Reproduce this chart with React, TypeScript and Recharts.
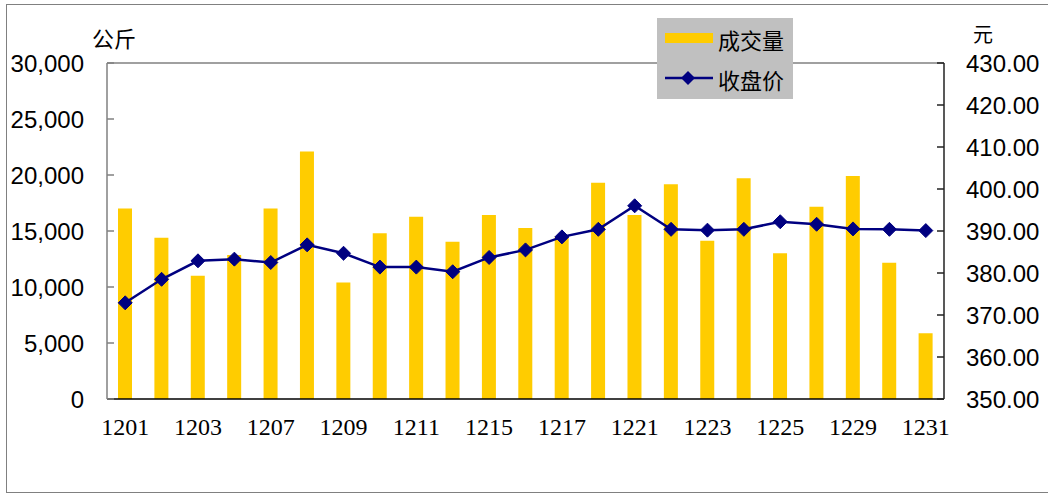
import React from 'react';
import { ComposedChart, Bar, Line, XAxis, YAxis, Legend, ReferenceLine } from 'recharts';

const dates = ['1201','1202','1203','1206','1207','1208','1209','1210','1211','1214','1215','1216','1217','1218','1221','1222','1223','1224','1225','1228','1229','1230','1231'];
const volume = [17000,14400,11000,12850,17000,22100,10400,14800,16280,14050,16430,15270,14500,19310,16430,19170,14130,19700,13010,17170,19910,12170,5870];
const closePrice = [372.9,378.5,382.9,383.3,382.5,386.7,384.7,381.4,381.4,380.3,383.7,385.5,388.6,390.4,396.0,390.4,390.2,390.4,392.2,391.6,390.5,390.4,390.1];
const leftTicks = [0,5000,10000,15000,20000,25000,30000];
const rightTicks = [350,360,370,380,390,400,410,420,430];

const data = dates.map((d, i) => ({ date: d, volume: volume[i], price: closePrice[i] }));

const NAVY = '#000080';
const GOLD = '#FFCC00';
const CJK = '"Noto Sans CJK SC", sans-serif';

const Diamond = (props: any) => {
  const { cx, cy } = props;
  if (cx == null || cy == null) return null;
  const r = 7;
  return <polygon points={`${cx},${cy - r} ${cx + r},${cy} ${cx},${cy + r} ${cx - r},${cy}`} fill={NAVY} stroke={NAVY} strokeWidth={1} />;
};

const LegendBox = () => (
  <div style={{ background: '#C0C0C0', width: 136, height: 81, position: 'relative', fontFamily: CJK, fontSize: 22, color: '#000' }}>
    <div style={{ position: 'absolute', left: 8, top: 15, width: 48, height: 10, background: GOLD }} />
    <div style={{ position: 'absolute', left: 61, top: 6, lineHeight: '30px' }}>成交量</div>
    <svg style={{ position: 'absolute', left: 8, top: 52 }} width={48} height={16}>
      <line x1={0} y1={8} x2={48} y2={8} stroke={NAVY} strokeWidth={2.5} />
      <polygon points="23,1 30,8 23,15 16,8" fill={NAVY} />
    </svg>
    <div style={{ position: 'absolute', left: 61, top: 46, lineHeight: '30px' }}>收盘价</div>
  </div>
);

export default function App() {
  return (
    <div style={{ position: 'absolute', left: 0, top: 0, width: 1048, height: 495, background: '#fff' }}>
      <div style={{ position: 'absolute', left: 6, top: 4, width: 1060, height: 489, border: '1px solid #808080', boxSizing: 'border-box' }} />
      <div style={{ position: 'absolute', left: 0, top: 0 }}>
        <ComposedChart width={1048} height={495} data={data} margin={{ top: 63, right: 4, bottom: 56, left: 7 }}>
          <XAxis
            dataKey="date"
            interval={1}
            tickLine={false}
            tickSize={8}
            tickMargin={11}
            stroke="#000"
            strokeWidth={1.5}
            height={40}
            tick={{ fill: '#000', fontSize: 24, fontFamily: '"Liberation Serif", serif' }}
          />
          <YAxis
            yAxisId="left"
            orientation="left"
            width={100}
            domain={[0, 30000]}
            ticks={leftTicks}
            interval={0}
            tickSize={-7}
            tickMargin={30}
            stroke="#808080"
            strokeWidth={1.5}
            tickFormatter={(v: number) => v.toLocaleString('en-US')}
            tick={{ fill: '#000', fontSize: 24, fontFamily: '"Liberation Sans", Arial, sans-serif' }}
          />
          <YAxis
            yAxisId="right"
            orientation="right"
            width={100}
            domain={[350, 430]}
            ticks={rightTicks}
            interval={0}
            tickSize={-7}
            tickMargin={29}
            stroke="#222"
            strokeWidth={1.5}
            tickFormatter={(v: number) => v.toFixed(2)}
            tick={{ fill: '#000', fontSize: 24, fontFamily: '"Liberation Sans", Arial, sans-serif', textAnchor: 'start' }}
          />
          <ReferenceLine yAxisId="left" y={30000} stroke="#808080" strokeWidth={1.5} />
          <Bar yAxisId="left" dataKey="volume" name="成交量" fill={GOLD} barSize={14} isAnimationActive={false} />
          <Line yAxisId="right" dataKey="price" name="收盘价" stroke={NAVY} strokeWidth={2.5} dot={<Diamond />} activeDot={false} isAnimationActive={false} />
          <Legend
            layout="vertical"
            align="center"
            verticalAlign="middle"
            content={() => <LegendBox />}
            wrapperStyle={{ position: 'absolute', left: 657, top: 18, width: 136, height: 81 }}
          />
        </ComposedChart>
      </div>
      <div style={{ position: 'absolute', left: 92, top: 26, fontFamily: CJK, fontSize: 22, lineHeight: '22px', color: '#000' }}>公斤</div>
      <div style={{ position: 'absolute', left: 973, top: 24, fontFamily: CJK, fontSize: 20, lineHeight: '20px', color: '#000' }}>元</div>
    </div>
  );
}
